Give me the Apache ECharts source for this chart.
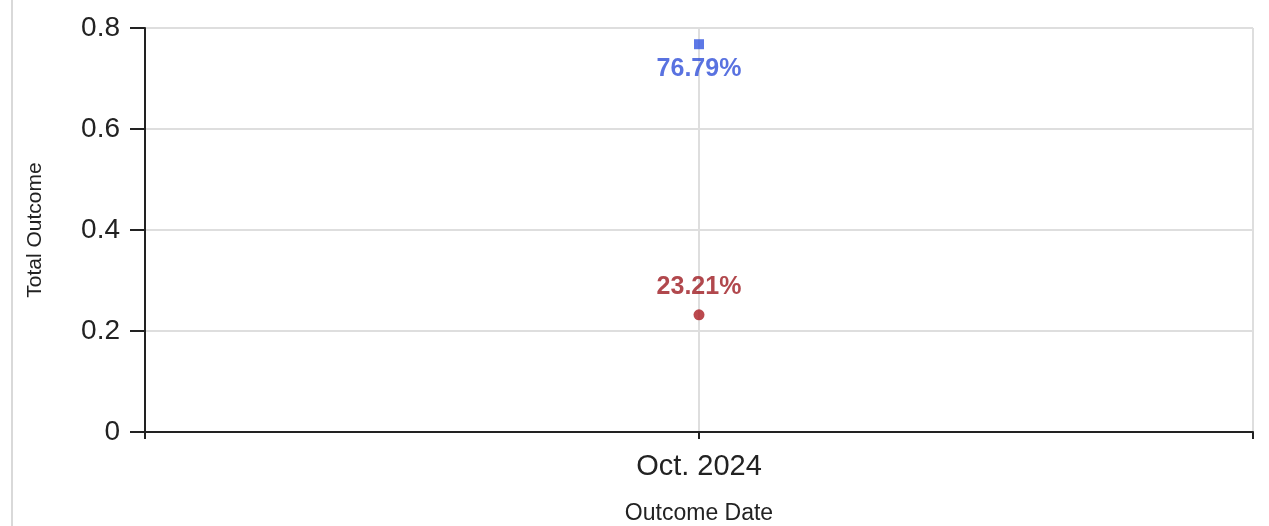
<!DOCTYPE html>
<html>
<head>
<meta charset="utf-8">
<script src="https://cdn.jsdelivr.net/npm/echarts@6/dist/echarts.min.js"></script>
<style>
html,body{margin:0;padding:0;background:#fff;overflow:hidden;}
#wrap{position:absolute;left:0;top:0;width:1269px;height:526px;}
#edge{position:absolute;left:11px;top:0;width:2px;height:526px;background:#d9d9d9;}
#chart{position:absolute;left:0;top:0;width:1269px;height:526px;}
</style>
</head>
<body>
<div id="wrap"><div id="edge"></div><div id="chart"></div></div>
<script>
const categories = ['Oct. 2024'];
const seriesA = [0.7679];
const seriesB = [0.2321];
const yTicks = [0, 0.2, 0.4, 0.6, 0.8];

const font = 'Liberation Sans, Arial, sans-serif';
const chart = echarts.init(document.getElementById('chart'), null, {renderer: 'canvas', width: 1269, height: 526});
chart.setOption({
  animation: false,
  backgroundColor: 'transparent',
  grid: {left: 145, right: 16, top: 28, bottom: 94, containLabel: false, outerBoundsMode: 'none'},
  xAxis: {
    type: 'value',
    min: -1, max: 1, interval: 1,
    name: 'Outcome Date',
    nameLocation: 'middle',
    nameGap: 70,
    nameTextStyle: {fontFamily: font, fontSize: 23, color: '#222'},
    axisLine: {show: true, onZero: false, lineStyle: {color: '#222', width: 2}},
    axisTick: {show: true, length: 7, lineStyle: {color: '#222', width: 2}},
    axisLabel: {
      fontFamily: font, fontSize: 29, color: '#222', margin: 20,
      formatter: function (v) { return categories[v] !== undefined ? categories[v] : ''; }
    },
    splitLine: {show: true, lineStyle: {color: '#dedede', width: 2}}
  },
  yAxis: {
    type: 'value',
    min: 0, max: yTicks[yTicks.length - 1], interval: 0.2,
    name: 'Total Outcome',
    nameLocation: 'middle',
    nameGap: 99,
    nameTextStyle: {fontFamily: font, fontSize: 21, color: '#222'},
    axisLine: {show: true, onZero: false, lineStyle: {color: '#222', width: 2}},
    axisTick: {show: true, length: 15, lineStyle: {color: '#222', width: 2}},
    axisLabel: {fontFamily: font, fontSize: 28, color: '#222', margin: 25,
      formatter: function (v) { return String(+v.toFixed(1)); }},
    splitLine: {show: true, lineStyle: {color: '#dedede', width: 2}}
  },
  series: [
    {
      name: 'Outcome A',
      type: 'scatter',
      symbol: 'rect',
      symbolSize: 10,
      itemStyle: {color: '#3556e0'},
      data: seriesA.map(function (v, i) { return [i, v]; }),
      label: {
        show: true, position: 'bottom', distance: 7,
        fontFamily: font, fontSize: 25, fontWeight: 'bold', color: '#2f4fd8',
        formatter: function (p) { return (p.value[1] * 100).toFixed(2) + '%'; }
      }
    },
    {
      name: 'Outcome B',
      type: 'scatter',
      symbol: 'circle',
      symbolSize: 11,
      itemStyle: {color: '#aa1c22'},
      data: seriesB.map(function (v, i) { return [i, v]; }),
      label: {
        show: true, position: 'top', distance: 10,
        fontFamily: font, fontSize: 25, fontWeight: 'bold', color: '#9e1a20',
        formatter: function (p) { return (p.value[1] * 100).toFixed(2) + '%'; }
      }
    }
  ]
});
</script>
</body>
</html>
